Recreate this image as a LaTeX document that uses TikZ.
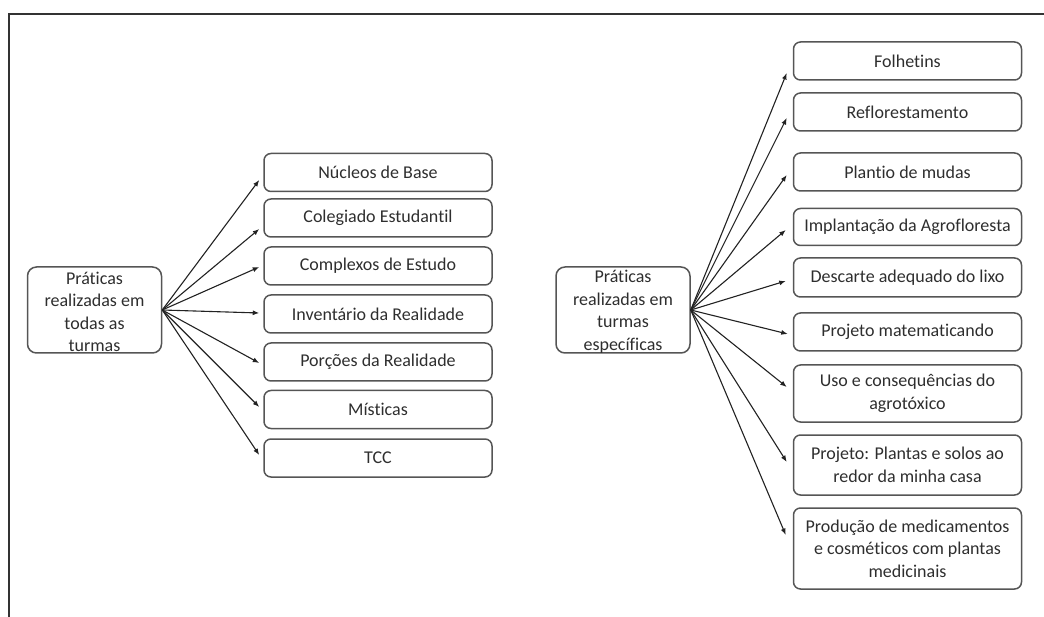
\documentclass[tikz,border=0pt]{standalone}
\usepackage{fontspec}
\setmainfont{Carlito}[Ligatures=NoCommon]
\usetikzlibrary{arrows.meta,calc}
\definecolor{txt}{HTML}{2E2E2E}
\definecolor{bord}{HTML}{555555}
\definecolor{ln}{HTML}{222222}
\tikzset{
  itembox/.style={draw=bord, line width=1.5pt, rounded corners=7pt, minimum width=228pt, inner sep=0pt, text=txt, font=\fontsize{18}{22.5}\selectfont, align=center},
  rootbox/.style={draw=bord, line width=1.5pt, rounded corners=9pt, minimum width=134pt, minimum height=86pt, inner sep=0pt},
  roottext/.style={text=txt, font=\fontsize{18}{22.5}\selectfont, align=center, inner sep=0pt},
  arr/.style={draw=ln, line width=1.1pt, -{Latex[length=6.5pt,width=5pt]}},
  frame/.style={draw=black!80, line width=2pt}
}
\begin{document}
\begin{tikzpicture}[x=1pt,y=-1pt]
\useasboundingbox (0,0) rectangle (1044,617);
\coordinate (fa) at (9,617);
\coordinate (fb) at (9,14);
\coordinate (fc) at (1044,14);
\draw[frame] (fa) -- (fb) -- (fc);

% left group
\node[rootbox] (L) at (94.5,310) {};
\node[roottext] (Lt) at (94.5,312) {Práticas\\realizadas em\\todas as\\turmas};
\node[itembox, minimum height=38pt] (a1) at (378,172.5) {Núcleos de Base};
\node[itembox, minimum height=38pt] (a2) at (378,218) {Colegiado Estudantil};
\node[itembox, minimum height=38pt] (a3) at (378,266) {Complexos de Estudo};
\node[itembox, minimum height=38pt] (a4) at (378,314) {Inventário da Realidade};
\node[itembox, minimum height=38pt] (a5) at (378,362) {Porções da Realidade};
\node[itembox, minimum height=38pt] (a6) at (378,409.5) {Místicas};
\node[itembox, minimum height=38pt] (a7) at (378,458) {TCC};

\draw[arr] (L.east) -- ($(a1.west)+(-4,7.5)$);
\draw[arr] (L.east) -- ($(a2.west)+(-4,11)$);
\draw[arr] (L.east) -- ($(a3.west)+(-4,1)$);
\draw[arr] (L.east) -- ($(a4.west)+(-4,-1)$);
\draw[arr] (L.east) -- ($(a5.west)+(-4,1)$);
\draw[arr] (L.east) -- ($(a6.west)+(-4,-2.5)$);
\draw[arr] (L.east) -- ($(a7.west)+(-4,-3)$);

% right group
\node[rootbox] (R) at (623,310) {};
\node[roottext] (Rt) at (623,312) {Práticas\\realizadas em\\turmas\\específicas};
\node[itembox, minimum height=38pt] (b1) at (907.5,61) {Folhetins};
\node[itembox, minimum height=38pt] (b2) at (907.5,112) {Reflorestamento};
\node[itembox, minimum height=38pt] (b3) at (907.5,172) {Plantio de mudas};
\node[itembox, minimum height=37pt] (b4) at (907.5,227) {Implantação da Agrofloresta};
\node[itembox, minimum height=39pt] (b5) at (907.5,277.5) {Descarte adequado do lixo};
\node[itembox, minimum height=38pt] (b6) at (907.5,332) {Projeto matematicando};
\node[itembox, minimum height=57pt] (b7) at (907.5,393.5) {Uso e consequências do\\agrotóxico};
\node[itembox, minimum height=60pt] (b8) at (907.5,465) {Projeto: Plantas e solos ao\\redor da minha casa};
\node[itembox, minimum height=81pt] (b9) at (907.5,548.5) {Produção de medicamentos\\e cosméticos com plantas\\medicinais};

\draw[arr] (R.east) -- ($(b1.west)+(-6,12)$);
\draw[arr] (R.east) -- ($(b2.west)+(-6,6)$);
\draw[arr] (R.east) -- ($(b3.west)+(-6,3)$);
\draw[arr] (R.east) -- ($(b4.west)+(-7,3)$);
\draw[arr] (R.east) -- ($(b5.west)+(-7,3.5)$);
\draw[arr] (R.east) -- ($(b6.west)+(-5,2)$);
\draw[arr] (R.east) -- ($(b7.west)+(-6,-6.5)$);
\draw[arr] (R.east) -- ($(b8.west)+(-6,-3)$);
\draw[arr] (R.east) -- ($(b9.west)+(-7,-13.5)$);
\end{tikzpicture}
\end{document}
